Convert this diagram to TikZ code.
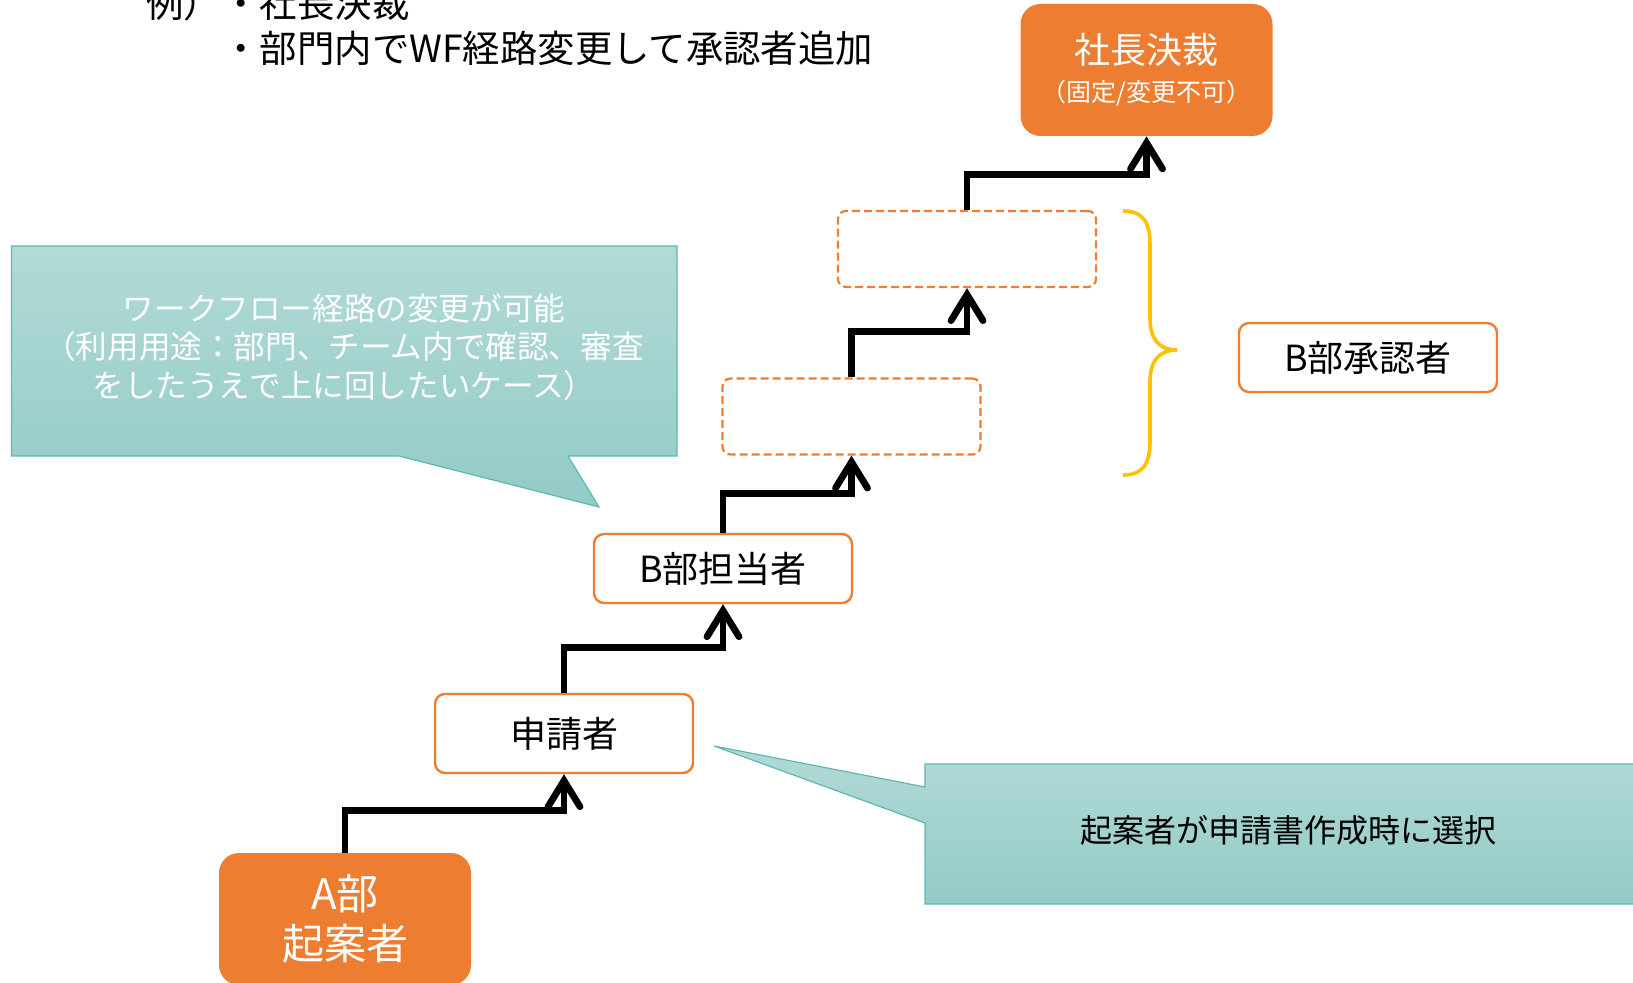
\documentclass[tikz,border=0pt]{standalone}
\usepackage{fontspec}
\setmainfont{Noto Sans CJK JP}
\usepackage{tikz}
\usetikzlibrary{arrows.meta}
\definecolor{accent}{HTML}{ED7D31}
\definecolor{tealtop}{HTML}{B2DAD7}
\definecolor{tealbottom}{HTML}{93CBC6}
\definecolor{tealline}{HTML}{5FB8B0}
\definecolor{braceyellow}{HTML}{FFC000}

\begin{document}
\begin{tikzpicture}[x=0.5pt, y=-0.5pt, font=\fontsize{18}{22}\selectfont,
        solidbox/.style={draw=accent, line width=1.2pt, rounded corners=5pt, fill=white, minimum width=129pt},
        dashbox/.style={draw=accent, line width=1.1pt, dash pattern=on 4pt off 2pt, rounded corners=4pt, minimum width=129pt, minimum height=38pt},
        filledbox/.style={fill=accent, rounded corners=10pt, minimum width=126pt, minimum height=66pt, text=white, align=center},
        stair/.style={line width=3.4pt, -{Straight Barb[length=13pt, width=16pt, line cap=round]}},
        bubble/.style={draw=tealline, line width=0.6pt, top color=tealtop, bottom color=tealbottom},
        toptext/.style={anchor=west, inner sep=0pt, font=\fontsize{18.7}{22}\selectfont}]
        \useasboundingbox (0,0) rectangle (1633,983);
        \clip (0,0) rectangle (1633,983);
        \node (ex) at (146,3) [toptext] {例）};
        \node (item1) at (222,3) [toptext] {・社長決裁};
        \node (item2) at (222,48) [toptext] {・部門内でWF経路変更して承認者追加};
        \path [bubble] (11.5,246) -- (677,246) -- (677,456) -- (568,456) -- (599,507) -- (399,456) -- (11.5,456) -- cycle;
        \node (8) at (344,347) [text=white, align=center, font=\fontsize{15.8}{19.3}\selectfont] {ワークフロー経路の変更が可能\\（利用用途：部門、チーム内で確認、審査\\をしたうえで上に回したいケース）};
        \path [bubble] (925,764) -- (1645,764) -- (1645,904) -- (925,904) -- (925,823) -- (714,746) -- (925,787) -- cycle;
        \node (9) at (1288,830) [font=\fontsize{16}{20}\selectfont] {起案者が申請書作成時に選択};
        \node (1) at (345,919) [filledbox, font=\fontsize{21}{25}\selectfont] {A部\\起案者};
        \node (2) at (564,733.5) [solidbox, minimum height=39.5pt] {申請者};
        \node (3) at (723,568.5) [solidbox, minimum height=34.5pt] {B部担当者};
        \node (4) at (851.5,416.5) [dashbox] {};
        \node (5) at (967,249) [dashbox] {};
        \node (6) at (1146.5,70) [filledbox] {社長決裁\\[-3pt]{\fontsize{12.5}{15}\selectfont （固定/変更不可）}};
        \node (7) at (1368,357.5) [solidbox, minimum height=34.5pt] {B部承認者};
        \draw [stair] (1.north) -- ++(0,-42) -| (2.south);
        \draw [stair] (2.north) -- ++(0,-45) -| (3.south);
        \draw [stair] (3.north) -- ++(0,-39) -| (4.south);
        \draw [stair] (4.north) -- ++(0,-46) -| (5.south);
        \draw [stair] (5.north) -- ++(0,-35) -| (6.south);
        \draw [braceyellow, line width=1.8pt] (1123,211) .. controls (1143,211) and (1150,222) .. (1150,245) -- (1150,318) .. controls (1150,338) and (1158,350) .. (1177,350) .. controls (1158,350) and (1150,362) .. (1150,382) -- (1150,441) .. controls (1150,464) and (1143,475) .. (1123,475);
    \end{tikzpicture}
\end{document}
